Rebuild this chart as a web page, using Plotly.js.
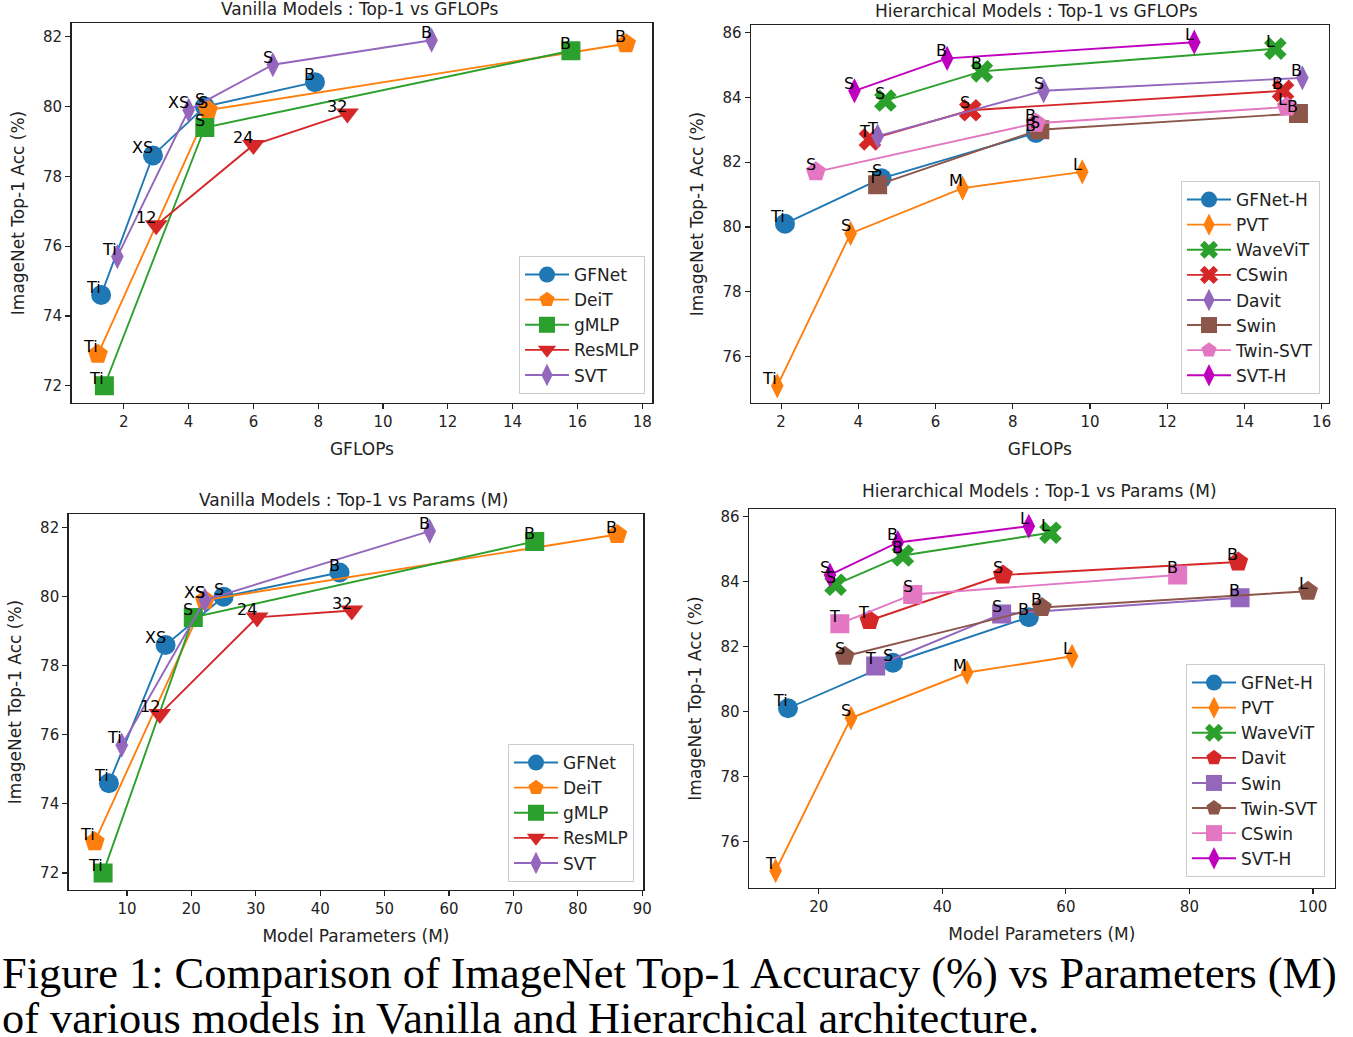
<!DOCTYPE html>
<html><head><meta charset="utf-8">
<script src="https://cdn.plot.ly/plotly-3.0.1.min.js"></script>
<style>body{margin:0;background:#fff}#chart{width:1353px;height:1037px}</style>
</head><body><div id="chart"></div>
<script>
// ---------- Panel A: Vanilla models, Top-1 vs GFLOPs ----------
const vanillaNames = ['GFNet', 'DeiT', 'gMLP', 'ResMLP', 'SVT'];
const vanillaFlopsLabels = [['Ti','XS','S','B'], ['Ti','S','B'], ['Ti','S','B'], ['12','24','32'], ['Ti','XS','S','B']];
const vanillaFlops = [[1.3, 2.9, 4.5, 7.9], [1.2, 4.6, 17.5], [1.4, 4.5, 15.8], [3.0, 6.0, 8.9], [1.8, 4.0, 6.6, 11.5]];
const vanillaFlopsAcc = [[74.6, 78.6, 80.0, 80.7], [72.9, 79.9, 81.8], [72.0, 79.4, 81.6], [76.6, 78.9, 79.8], [75.7, 79.9, 81.2, 81.9]];

// ---------- Panel C: Vanilla models, Top-1 vs Params ----------
const vanillaParamsLabels = [['Ti','XS','S','B'], ['Ti','S','B'], ['Ti','S','B'], ['12','24','32'], ['Ti','XS','B']];
const vanillaParams = [[7.2, 16.0, 25.0, 43.0], [5.0, 22.1, 86.1], [6.3, 20.3, 73.3], [15.1, 30.2, 44.9], [9.2, 22.1, 57.0]];
const vanillaParamsAcc = [[74.6, 78.6, 80.0, 80.7], [72.9, 79.9, 81.8], [72.0, 79.4, 81.6], [76.6, 79.4, 79.6], [75.7, 79.9, 81.9]];

// ---------- Panel B: Hierarchical models, Top-1 vs GFLOPs ----------
const hierFlopsNames = ['GFNet-H', 'PVT', 'WaveViT', 'CSwin', 'Davit', 'Swin', 'Twin-SVT', 'SVT-H'];
const hierFlopsLabels = [['Ti','S','B'], ['Ti','S','M','L'], ['S','B','L'], ['T','S','B'], ['T','S','B'], ['T','S','B'], ['S','B','L'], ['S','B','L']];
const hierFlops = [[2.1, 4.6, 8.6], [1.9, 3.8, 6.7, 9.8], [4.7, 7.2, 14.8], [4.3, 6.9, 15.0], [4.5, 8.8, 15.5], [4.5, 8.7, 15.4], [2.9, 8.6, 15.1], [3.9, 6.3, 12.7]];
const hierFlopsAcc = [[80.1, 81.5, 82.9], [75.1, 79.8, 81.2, 81.7], [83.9, 84.8, 85.5], [82.7, 83.6, 84.2], [82.8, 84.2, 84.6], [81.3, 83.0, 83.5], [81.7, 83.2, 83.7], [84.2, 85.2, 85.7]];

// ---------- Panel D: Hierarchical models, Top-1 vs Params ----------
const hierParamsNames = ['GFNet-H', 'PVT', 'WaveViT', 'Davit', 'Swin', 'Twin-SVT', 'CSwin', 'SVT-H'];
const hierParamsLabels = [['Ti','S','B'], ['T','S','M','L'], ['S','B','L'], ['T','S','B'], ['T','S','B'], ['S','B','L'], ['T','S','B'], ['S','B','L']];
const hierParams = [[15.0, 32.0, 54.0], [13.0, 25.2, 44.0, 61.0], [22.7, 33.6, 57.5], [28.2, 49.8, 87.9], [29.2, 49.6, 88.2], [24.2, 56.1, 99.2], [23.4, 35.2, 78.1], [21.8, 32.8, 54.0]];
const hierParamsAcc = [[80.1, 81.5, 82.9], [75.1, 79.8, 81.2, 81.7], [83.9, 84.8, 85.5], [82.8, 84.2, 84.6], [81.4, 83.0, 83.5], [81.7, 83.2, 83.7], [82.7, 83.6, 84.2], [84.2, 85.2, 85.7]];

// ---------- Styles ----------
const vanillaColors = ['#1f77b4', '#ff7f0e', '#2ca02c', '#d62728', '#9467bd'];
const vanillaSymbols = ['circle', 'pentagon', 'square', 'triangle-down', 'diamond-tall'];
const hierFlopsColors = ['#1f77b4', '#ff7f0e', '#2ca02c', '#d62728', '#9467bd', '#8c564b', '#e377c2', '#bf00bf'];
const hierFlopsSymbols = ['circle', 'diamond-tall', 'x', 'x', 'diamond-tall', 'square', 'pentagon', 'diamond-tall'];
const hierParamsColors = ['#1f77b4', '#ff7f0e', '#2ca02c', '#d62728', '#9467bd', '#8c564b', '#e377c2', '#bf00bf'];
const hierParamsSymbols = ['circle', 'diamond-tall', 'x', 'pentagon', 'square', 'pentagon', 'square', 'diamond-tall'];

const FONT = 'DejaVu Sans, sans-serif';
const W = 1353, H = 1037;
const symSize = {'circle': 20, 'pentagon': 21, 'square': 19, 'triangle-down': 20, 'diamond-tall': 18, 'x': 20};

const traces = [];
const annotations = [];

function addPanel(names, xs, ys, labels, colors, symbols, xa, ya, legendId) {
  names.forEach((nm, i) => {
    traces.push({
      type: 'scatter', mode: 'lines+markers', name: nm,
      x: xs[i], y: ys[i], xaxis: xa, yaxis: ya, legend: legendId,
      legendgroup: legendId + nm,
      line: {color: colors[i], width: 1.9},
      marker: {color: colors[i], symbol: symbols[i], size: symSize[symbols[i]], line: {width: 0}},
      hoverinfo: 'x+y+name'
    });
    xs[i].forEach((xv, j) => {
      annotations.push({
        xref: xa, yref: ya, x: xv, y: ys[i][j], text: labels[i][j], showarrow: false,
        xanchor: 'right', yanchor: 'bottom', xshift: 2, yshift: -4,
        font: {family: FONT, size: 16, color: '#000'}
      });
    });
  });
}

addPanel(vanillaNames, vanillaFlops, vanillaFlopsAcc, vanillaFlopsLabels, vanillaColors, vanillaSymbols, 'x', 'y', 'legend');
addPanel(hierFlopsNames, hierFlops, hierFlopsAcc, hierFlopsLabels, hierFlopsColors, hierFlopsSymbols, 'x2', 'y2', 'legend2');
addPanel(vanillaNames, vanillaParams, vanillaParamsAcc, vanillaParamsLabels, vanillaColors, vanillaSymbols, 'x3', 'y3', 'legend3');
addPanel(hierParamsNames, hierParams, hierParamsAcc, hierParamsLabels, hierParamsColors, hierParamsSymbols, 'x4', 'y4', 'legend4');

function pad(arrs) {
  const flat = arrs.flat();
  const lo = Math.min(...flat), hi = Math.max(...flat), s = hi - lo;
  return [lo - 0.05 * s, hi + 0.05 * s];
}
function px2x(a, b) { return [a / W, b / W]; }
function px2y(top, bot) { return [1 - bot / H, 1 - top / H]; }

function axis(domain, range, dtick, title, standoff) {
  return {
    domain: domain, range: range, dtick: dtick, tick0: 0,
    showline: true, mirror: true, linecolor: '#222', linewidth: 1.4,
    ticks: 'outside', ticklen: 5, tickwidth: 1.2, tickcolor: '#222',
    showgrid: false, zeroline: false,
    tickfont: {family: FONT, size: 15, color: '#222'},
    title: {text: title, font: {family: FONT, size: 17, color: '#222'}, standoff: standoff}
  };
}

const legendBase = {
  bgcolor: 'rgba(255,255,255,0.85)', bordercolor: '#cccccc', borderwidth: 1,
  font: {family: FONT, size: 17, color: '#222'}, xanchor: 'right', yanchor: 'bottom',
  itemwidth: 44, tracegroupgap: 4, traceorder: 'normal', itemsizing: 'trace'
};

const subTitles = [
  ['Vanilla Models : Top-1 vs GFLOPs', 360, 9],
  ['Hierarchical Models : Top-1 vs GFLOPs', 1036, 11],
  ['Vanilla Models : Top-1 vs Params (M)', 353, 500],
  ['Hierarchical Models : Top-1 vs Params (M)', 1039, 491]
];
subTitles.forEach(t => annotations.push({
  xref: 'paper', yref: 'paper', x: t[1] / W, y: 1 - t[2] / H, text: t[0], showarrow: false,
  xanchor: 'center', yanchor: 'middle', font: {family: FONT, size: 17, color: '#222'}
}));

const captionLines = [
  ['Figure 1: Comparison of ImageNet Top-1 Accuracy (%) vs Parameters (M)', 973],
  ['of various models in Vanilla and Hierarchical architecture.', 1018]
];
captionLines.forEach(c => annotations.push({
  xref: 'paper', yref: 'paper', x: 0, y: 1 - c[1] / H, text: c[0], showarrow: false,
  xanchor: 'left', yanchor: 'middle', font: {family: 'Liberation Serif, serif', size: 44.4, color: '#000'}
}));

const yTitle = 'ImageNet Top-1 Acc (%)';
const layout = {
  width: W, height: H, margin: {l: 0, r: 0, t: 0, b: 0},
  paper_bgcolor: '#fff', plot_bgcolor: '#fff', showlegend: true,
  xaxis: axis(px2x(71.5, 652.4), pad(vanillaFlops), 2, 'GFLOPs', 12),
  yaxis: axis(px2y(23, 403), pad(vanillaFlopsAcc), 2, yTitle, 14),
  xaxis2: axis(px2x(751, 1328.6), pad(hierFlops), 2, 'GFLOPs', 12),
  yaxis2: axis(px2y(25, 403), pad(hierFlopsAcc), 2, yTitle, 14),
  xaxis3: axis(px2x(68.6, 643.3), pad(vanillaParams), 10, 'Model Parameters (M)', 12),
  yaxis3: axis(px2y(514, 890), pad(vanillaParamsAcc), 2, yTitle, 14),
  xaxis4: axis(px2x(749, 1334.6), pad(hierParams), 20, 'Model Parameters (M)', 12),
  yaxis4: axis(px2y(509, 888), pad(hierParamsAcc), 2, yTitle, 14),
  legend: Object.assign({}, legendBase, {x: 645 / W, y: 1 - 394 / H}),
  legend2: Object.assign({}, legendBase, {x: 1320 / W, y: 1 - 394 / H}),
  legend3: Object.assign({}, legendBase, {x: 634 / W, y: 1 - 882 / H}),
  legend4: Object.assign({}, legendBase, {x: 1325 / W, y: 1 - 877 / H}),
  annotations: annotations
};
layout.xaxis.anchor = 'y'; layout.yaxis.anchor = 'x';
layout.xaxis2.anchor = 'y2'; layout.yaxis2.anchor = 'x2';
layout.xaxis3.anchor = 'y3'; layout.yaxis3.anchor = 'x3';
layout.xaxis4.anchor = 'y4'; layout.yaxis4.anchor = 'x4';

Plotly.newPlot('chart', traces, layout, {displayModeBar: false, staticPlot: true});
</script></body></html>
